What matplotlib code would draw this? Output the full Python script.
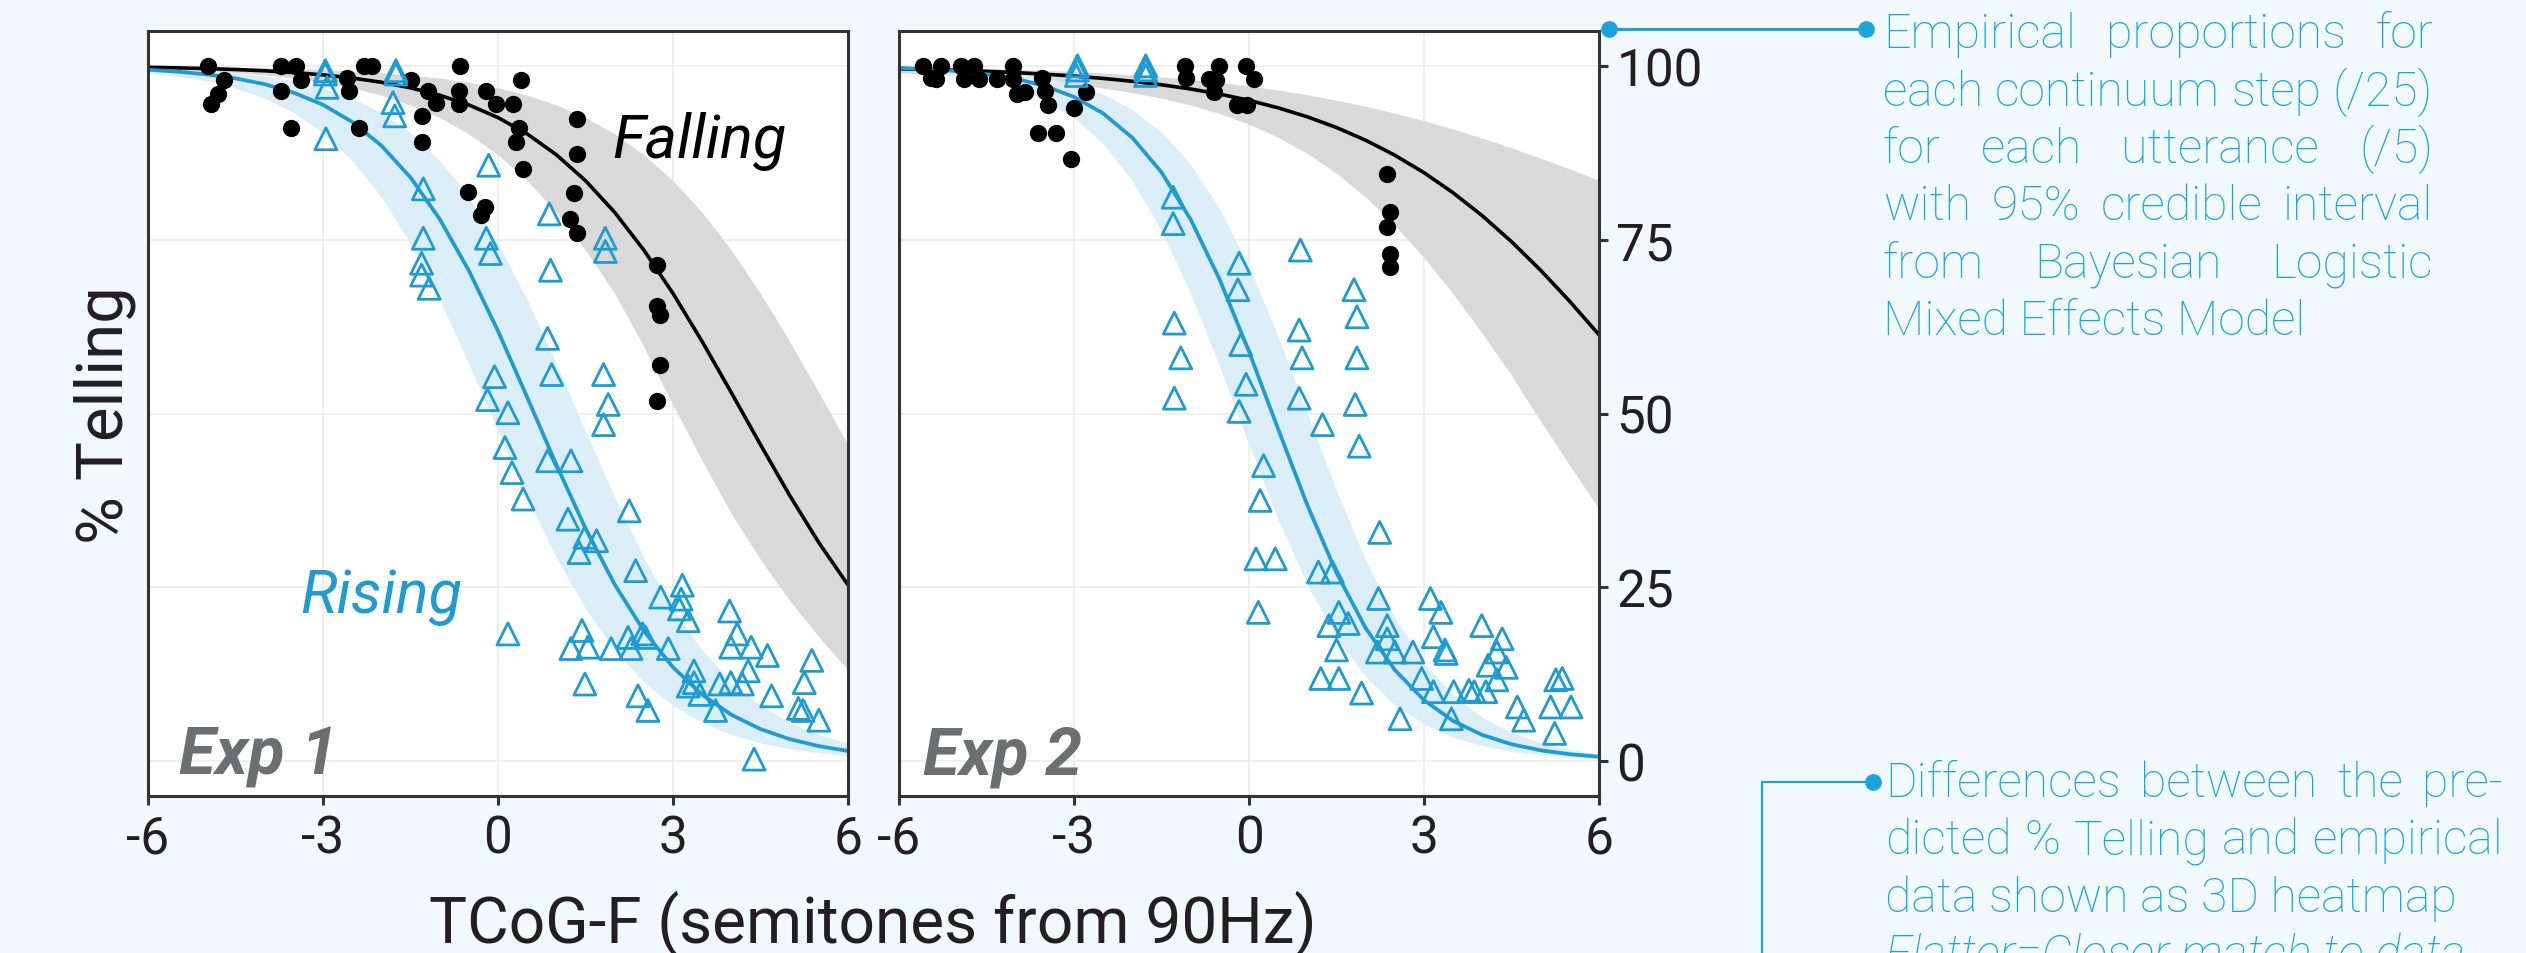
import matplotlib
matplotlib.use("Agg")
import matplotlib.pyplot as plt
from matplotlib import font_manager

W, H, DPI = 2526, 954, 100

names = {f.name for f in font_manager.fontManager.ttflist}
FONT = 'Roboto' if 'Roboto' in names else 'DejaVu Sans'
plt.rcParams['font.family'] = [FONT, 'DejaVu Sans']

BG = '#f2f9fc'
BLUE = '#1f9bd1'
BAND_BLUE = '#dbeef7'
GREY_BAND = '#d9d9d9'
NOTE = '#1aa3dd'
EXP_GREY = '#6d6e71'
INK = '#231f20'

# ---- fitted curves (every 0.5 semitone) ----
curve_x = [-6.0, -5.5, -5.0, -4.5, -4.0, -3.5, -3.0, -2.5, -2.0, -1.5, -1.0, -0.5,
           0.0, 0.5, 1.0, 1.5, 2.0, 2.5, 3.0, 3.5, 4.0, 4.5, 5.0, 5.5, 6.0]

exp1_fall_fit = [99.78, 99.70, 99.60, 99.46, 99.28, 99.02, 98.69, 98.24, 97.63, 96.83, 95.77, 94.37,
                 92.55, 90.20, 87.21, 83.48, 78.93, 73.50, 67.26, 60.35, 53.00, 45.51, 38.22, 31.43, 25.35]
exp1_fall_lo = [99.60, 99.46, 99.28, 99.02, 98.69, 98.24, 97.63, 96.83, 95.77, 94.37, 92.55, 90.20,
                87.21, 83.48, 78.93, 73.50, 67.26, 59.60, 51.20, 43.20, 35.60, 29.00, 23.10, 17.90, 13.10]
exp1_fall_hi = [99.91, 99.88, 99.84, 99.78, 99.70, 99.60, 99.46, 99.28, 99.02, 98.69, 98.24, 97.63,
                96.83, 95.77, 94.37, 92.55, 90.20, 87.21, 83.48, 78.93, 73.50, 67.26, 60.35, 53.00, 45.51]

exp1_rise_fit = [99.43, 99.16, 98.77, 98.19, 97.35, 96.13, 94.39, 91.93, 88.53, 83.94, 77.97, 70.55,
                 61.86, 52.34, 42.64, 33.48, 25.42, 18.75, 13.51, 9.57, 6.68, 4.62, 3.18, 2.17, 1.48]
exp1_rise_lo = [98.98, 98.51, 97.81, 96.80, 95.34, 93.27, 90.37, 86.39, 81.13, 74.44, 66.34, 57.16,
                47.47, 37.96, 29.29, 21.90, 15.96, 11.39, 8.01, 5.57, 3.84, 2.63, 1.80, 1.22, 0.83]
exp1_rise_hi = [99.68, 99.53, 99.31, 98.98, 98.51, 97.81, 96.80, 95.34, 93.27, 90.37, 86.39, 81.13,
                74.44, 66.34, 57.16, 47.47, 37.96, 29.29, 21.90, 15.96, 11.39, 8.01, 5.57, 3.84, 2.63]

exp2_fall_fit = [99.57, 99.47, 99.35, 99.20, 99.02, 98.79, 98.52, 98.18, 97.77, 97.27, 96.66, 95.92,
                 95.03, 93.95, 92.66, 91.12, 89.29, 87.14, 84.63, 81.73, 78.43, 74.71, 70.59, 66.11, 61.32]
exp2_fall_lo = [98.98, 98.82, 98.63, 98.39, 98.11, 97.76, 97.33, 96.80, 96.15, 95.35, 94.35, 93.12,
                91.59, 89.71, 87.39, 84.55, 81.12, 77.03, 72.40, 67.20, 61.50, 55.50, 48.90, 42.50, 36.30]
exp2_fall_hi = [99.82, 99.76, 99.69, 99.60, 99.49, 99.35, 99.18, 98.97, 98.72, 98.41, 98.05, 97.61,
                97.11, 96.52, 95.84, 95.06, 94.18, 93.19, 92.10, 90.90, 89.60, 88.20, 86.71, 85.15, 83.52]

exp2_rise_fit = [99.69, 99.51, 99.23, 98.80, 98.13, 97.10, 95.52, 93.15, 89.66, 84.68, 77.90, 69.21,
                 58.90, 47.75, 36.82, 27.09, 19.15, 13.12, 8.79, 5.79, 3.77, 2.44, 1.57, 1.01, 0.64]
exp2_rise_lo = [99.46, 99.16, 98.69, 97.96, 96.83, 95.12, 92.55, 88.80, 83.48, 76.31, 67.26, 56.70,
                45.51, 34.75, 25.35, 17.80, 12.13, 8.09, 5.32, 3.46, 2.23, 1.43, 0.92, 0.59, 0.38]
exp2_rise_hi = [99.82, 99.71, 99.55, 99.30, 98.90, 98.29, 97.34, 95.89, 93.70, 90.47, 85.81, 79.42,
                71.10, 61.07, 50.00, 38.94, 28.91, 20.59, 14.19, 9.54, 6.30, 4.11, 2.66, 1.71, 1.10]

# ---- empirical proportions ----
exp1_fall_x = [-4.97, -4.70, -4.80, -4.92, -3.72, -3.47, -3.37, -3.72, -3.55, -2.59, -2.56, -2.29, -2.16,
               -2.39, -1.50, -1.20, -1.06, -1.31, -1.31, -0.65, -0.67, -0.67, -0.20, -0.03, 0.26, 0.39,
               0.36, 0.31, 0.43, 1.35, 1.35, -0.52, -0.23, -0.30, 1.30, 1.23, 1.35, 2.72, 2.72, 2.77,
               2.77, 2.72]
exp1_fall_y = [100, 98, 96, 94.5, 100, 100, 98, 96.4, 91, 98.3, 96.4, 100, 100,
               91, 98, 96.4, 94.7, 92.8, 89, 100, 96.4, 94.5, 96.4, 94.5, 94.5, 98,
               91, 89, 85.2, 92.4, 87.3, 81.9, 79.7, 78.5, 81.7, 78, 75.9, 71.3, 65.4, 64.2,
               57, 51.8]

exp1_rise_x = [-2.96, -2.96, -2.93, -2.95, -1.75, -1.75, -1.80, -1.77, -0.16, -1.28, -1.28, -1.31, -1.31,
               -1.18, -0.20, -0.13, 0.88, 0.90, 1.84, 1.84, 0.85, -0.06, 0.92, 1.81, -0.18, 0.17,
               1.89, 1.81, 0.12, 0.85, 1.25, 0.24, 0.43, 2.25, 1.20, 1.49, 1.69, 1.39, 2.36, 3.16,
               2.79, 3.14, 3.11, 3.26, 3.97, 4.10, 0.17, 1.44, 1.25, 1.54, 1.94, 2.23, 2.28, 2.48,
               2.53, 2.92, 3.99, 4.34, 4.62, 5.38, 4.29, 3.36, 3.36, 3.26, 3.46, 3.80, 3.99, 4.19,
               1.49, 2.40, 2.57, 3.73, 4.69, 5.25, 5.15, 5.23, 5.50, 4.39]
exp1_rise_y = [98.8, 99.3, 96.9, 89.5, 98.8, 99.3, 94.7, 92.8, 85.7, 82.3, 75.2, 71.6, 69.9,
               68, 75.2, 73, 78.7, 70.6, 75.2, 73.3, 60.8, 55.3, 55.6, 55.6, 52, 50.1,
               51.3, 48.4, 45.1, 43.2, 43.2, 41.5, 37.7, 36, 34.8, 32.2, 31.7, 30, 27.4, 25.3,
               23.6, 23.3, 21.9, 20.2, 21.6, 18.3, 18.3, 18.8, 16.2, 16.4, 16.2, 17.8, 16.2, 18.3,
               17.8, 16.2, 16.4, 16.4, 15.2, 14.5, 13, 13, 11.3, 10.8, 9.6, 11.1, 11.3, 11.1,
               11.1, 9.4, 7.3, 7.3, 9.4, 11.3, 7.6, 7.3, 5.9, 0.3]

exp2_fall_x = [-5.59, -5.46, -5.28, -5.37, -4.93, -4.71, -4.89, -4.63, -4.32, -4.04, -4.04, -3.97,
               -3.84, -3.55, -3.49, -3.45, -3.62, -3.31, -3.00, -2.79, -3.05, -1.10, -1.08, -0.69,
               -0.52, -0.56, -0.60, -0.05, 0.08, -0.21, -0.03, 2.37, 2.41, 2.37, 2.41, 2.41]
exp2_fall_y = [100, 98.3, 100, 98.1, 100, 100, 98.1, 98.1, 98.1, 100, 98.1, 95.9,
               96.2, 98.3, 96.4, 94.3, 90.4, 90.4, 94.0, 96.2, 86.6, 100, 98.3, 98.1,
               100, 97.9, 96.2, 100, 98.1, 94.3, 94.3, 84.5, 79, 76.8, 73, 71.1]

exp2_rise_x = [-2.94, -2.94, -2.96, -1.77, -1.77, -1.77, -1.30, -1.30, -0.17, -0.19, 0.88, 1.80, 1.85,
               -1.28, 0.86, -0.14, -1.17, 0.91, 1.85, -0.05, -1.28, 0.86, 1.82, -0.17, 1.26, 1.89,
               0.25, 0.19, 2.24, 0.12, 0.45, 1.19, 1.43, 0.16, 2.22, 3.11, 3.29, 1.54, 1.37, 1.70,
               2.37, 2.37, 3.99, 4.34, 1.50, 2.20, 2.50, 2.81, 3.16, 3.36, 3.38, 4.25, 4.10, 4.41,
               4.25, 2.96, 3.16, 3.51, 3.77, 4.06, 3.86, 1.23, 1.54, 1.93, 2.59, 3.47, 4.60, 4.71,
               5.26, 5.37, 5.17, 5.52, 5.24]
exp2_rise_y = [100, 99.4, 98.6, 100, 99.4, 98.6, 81.1, 77.3, 71.6, 67.8, 73.5, 67.8, 63.9,
               63, 62, 59.9, 58, 58, 58, 54.2, 52.2, 52.2, 51.3, 50.3, 48.4, 45.3,
               42.5, 37.5, 32.9, 29.1, 29.1, 27.2, 27.2, 21.4, 23.4, 23.4, 21.4, 21.4, 19.5, 19.8,
               19.5, 17.6, 19.5, 17.6, 16, 15.7, 15.7, 15.7, 17.9, 16, 15.5, 15.7, 13.8, 13.5,
               11.7, 11.9, 10, 10, 10.2, 10, 10, 11.9, 11.9, 9.8, 6.1, 6.1, 7.8, 5.9,
               11.7, 11.9, 7.8, 7.8, 4]

x_ticks = [-6, -3, 0, 3, 6]
x_tick_labels = ['-6', '-3', '0', '3', '6']
y_ticks = [0, 25, 50, 75, 100]

note_top = ["Empirical proportions for", "each continuum step (/25)", "for each utterance (/5)",
            "with 95% credible interval", "from Bayesian Logistic", "Mixed Effects Model"]
note_bottom = ["Differences between the pre-", "dicted % Telling and empirical",
               "data shown as 3D heatmap"]
note_bottom_italic = "Flatter=Closer match to data"


fig = plt.figure(figsize=(W / DPI, H / DPI), dpi=DPI, facecolor=BG)


def panel(left_px):
    ax = fig.add_axes([left_px / W, 1 - 797 / H, 700 / W, 765 / H], facecolor='white')
    ax.set_xlim(-6, 6)
    ax.set_ylim(-5, 105)
    ax.set_xticks(x_ticks)
    ax.set_xticklabels(x_tick_labels)
    ax.set_yticks(y_ticks)
    ax.set_axisbelow(True)
    ax.grid(True, color='#ebebeb', lw=1.1)
    for s in ax.spines.values():
        s.set_color('#333333')
        s.set_linewidth(2.2)
    ax.tick_params(axis='both', direction='out', length=6.5, width=2.2, color='#333333',
                   labelsize=37, labelcolor=INK, pad=6)
    return ax


def draw(ax, fall, rise):
    fx, fy, fit_f, lo_f, hi_f = fall
    rx, ry, fit_r, lo_r, hi_r = rise
    ax.fill_between(curve_x, lo_f, hi_f, color=GREY_BAND, lw=0, zorder=1)
    ax.fill_between(curve_x, lo_r, hi_r, color=BAND_BLUE, lw=0, zorder=1.5)
    ax.plot(curve_x, fit_f, color='black', lw=2.6, zorder=2)
    ax.plot(curve_x, fit_r, color=BLUE, lw=2.7, zorder=2)
    ax.scatter(fx, fy, s=155, color='black', lw=0, zorder=3)
    ax.scatter(rx, ry, s=250, marker='^', facecolors='none', edgecolors=BLUE,
               linewidths=2.0, zorder=3)


ax1 = panel(148)
ax1.tick_params(axis='y', left=False, labelleft=False)
draw(ax1, (exp1_fall_x, exp1_fall_y, exp1_fall_fit, exp1_fall_lo, exp1_fall_hi),
     (exp1_rise_x, exp1_rise_y, exp1_rise_fit, exp1_rise_lo, exp1_rise_hi))

ax2 = panel(899)
ax2.yaxis.tick_right()
ax2.tick_params(axis='y', left=False, right=True, labelleft=False, labelright=True)
draw(ax2, (exp2_fall_x, exp2_fall_y, exp2_fall_fit, exp2_fall_lo, exp2_fall_hi),
     (exp2_rise_x, exp2_rise_y, exp2_rise_fit, exp2_rise_lo, exp2_rise_hi))

# overlay in pixel coordinates (y downwards) for labels and notes
over = fig.add_axes([0, 0, 1, 1], facecolor='none', zorder=10)
over.set_xlim(0, W)
over.set_ylim(H, 0)
over.axis('off')

over.text(612, 158, 'Falling', fontsize=44, style='italic', color='black', va='baseline')
over.text(300, 613, 'Rising', fontsize=44, style='italic', color=BLUE, va='baseline')
over.text(179, 775, 'Exp 1', fontsize=48, style='italic', weight='bold', color=EXP_GREY, va='baseline')
over.text(923, 775, 'Exp 2', fontsize=48, style='italic', weight='bold', color=EXP_GREY, va='baseline')

over.text(105, 415, '% Telling', fontsize=47, rotation=90, color=INK, ha='center', va='center')
over.text(873, 943, 'TCoG-F (semitones from 90Hz)', fontsize=46, color=INK, ha='center', va='baseline')

renderer = fig.canvas.get_renderer()


def width_of(s, **kw):
    t = over.text(0, 0, s, **kw)
    w = t.get_window_extent(renderer).width
    t.remove()
    return w


def note_line(s, x0, x1, y, justify, **kw):
    words = s.split(' ')
    if not justify or len(words) == 1:
        over.text(x0, y, s, va='baseline', ha='left', **kw)
        return
    widths = [width_of(w, **kw) for w in words]
    gap = (x1 - x0 - sum(widths)) / (len(words) - 1)
    x = x0
    for w, wd in zip(words, widths):
        over.text(x, y, w, va='baseline', ha='left', **kw)
        x += wd + gap


note_kw = dict(color=NOTE, weight='light')
note_size = 30 * 550 / width_of(note_top[1], fontsize=30, **note_kw)
note_kw['fontsize'] = note_size

for i, line in enumerate(note_top):
    note_line(line, 1883, 2433, 48 + i * 57.5, i < len(note_top) - 1, **note_kw)

for i, line in enumerate(note_bottom):
    note_line(line, 1885, 2503, 797 + i * 57.5, i < 2, **note_kw)
over.text(1885, 797 + 3 * 57.5, note_bottom_italic, va='baseline', style='italic', **note_kw)

# connectors
over.plot([1609, 1866], [30, 30], color=NOTE, lw=2.2, solid_capstyle='butt')
over.plot([1609, 1866], [30, 30], 'o', ms=11, color=NOTE, clip_on=False)
over.plot([1762, 1762, 1873], [H + 20, 783, 783], color=NOTE, lw=1.6, clip_on=False)
over.plot([1873], [783], 'o', ms=11, color=NOTE)

fig.savefig('out.png', dpi=DPI, facecolor=BG)
